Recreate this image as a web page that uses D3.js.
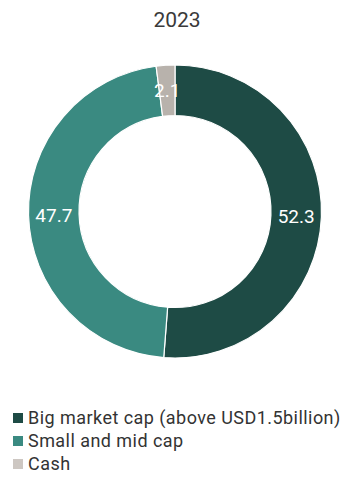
<!DOCTYPE html>
<html><head><meta charset="utf-8">
<script src="https://cdn.jsdelivr.net/npm/d3@7"></script>
<style>body{margin:0;background:#fff;} svg{display:block;}</style>
</head><body>
<svg id="c" width="340" height="479"></svg>
<script>
const title = "2023";
const categories = ["Big market cap (above USD1.5billion)", "Small and mid cap", "Cash"];
const values = [52.3, 47.7, 2.1];
const labels = ["52.3", "47.7", "2.1"];
const colors = ["#1e4b45", "#3a8a81", "#b8b2ac"];
const legendColors = ["#1e4b45", "#3a8a81", "#cdc7c2"];

const svg = d3.select("#c");
const cx = 175, cy = 211.5, rOuter = 146.5, rInner = 96;

svg.append("text").attr("x", 177).attr("y", 27).attr("text-anchor", "middle")
  .attr("font-family", "Roboto, sans-serif").attr("font-size", 21).attr("fill", "#3a3a3a").text(title);

const data = categories.map((c, i) => ({cat: c, value: values[i], label: labels[i], color: colors[i]}));
const pie = d3.pie().value(d => d.value).sort(null);
const arc = d3.arc().innerRadius(rInner).outerRadius(rOuter);
const labelArc = d3.arc().innerRadius((rInner + rOuter) / 2).outerRadius((rInner + rOuter) / 2);
const g = svg.append("g").attr("transform", `translate(${cx},${cy})`);
const arcs = pie(data);
g.selectAll("path").data(arcs).enter().append("path")
  .attr("d", arc).attr("fill", d => d.data.color).attr("stroke", "#fff").attr("stroke-width", 1.2);
g.selectAll("text").data(arcs).enter().append("text")
  .attr("transform", d => `translate(${labelArc.centroid(d)})`)
  .attr("text-anchor", "middle").attr("dy", "0.36em")
  .attr("font-family", "Roboto, sans-serif").attr("font-size", 19).attr("fill", "#fff")
  .text(d => d.data.label);

const lg = svg.append("g").attr("transform", "translate(13,418)");
const rows = lg.selectAll("g").data(categories).enter().append("g")
  .attr("transform", (d, i) => `translate(0,${i * 23})`);
rows.append("rect").attr("x", 0).attr("y", -5).attr("width", 10).attr("height", 10)
  .attr("fill", (d, i) => legendColors[i]);
rows.append("text").attr("x", 15).attr("y", 0).attr("dy", "0.36em")
  .attr("font-family", "Roboto, sans-serif").attr("font-size", 18).attr("letter-spacing", 0.45).attr("fill", "#333")
  .text(d => d);
</script>
</body></html>
